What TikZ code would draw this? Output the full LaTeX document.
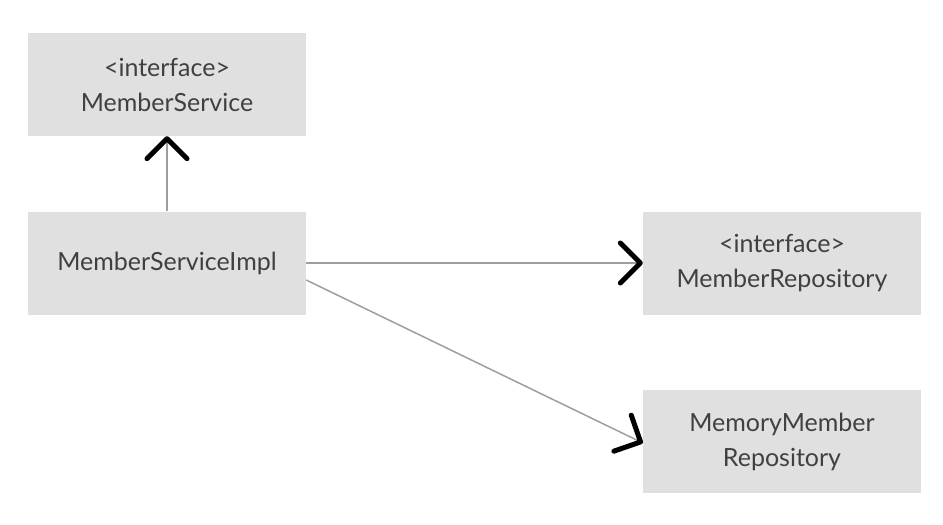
\documentclass[tikz,border=0pt]{standalone}
\usepackage{fontspec}
\setmainfont{Lato}
\usetikzlibrary{arrows.meta,calc}
\definecolor{boxfill}{HTML}{E0E0E0}
\definecolor{txt}{HTML}{404040}
\definecolor{conn}{HTML}{9E9E9E}
\tikzset{
  umlbox/.style={rectangle, fill=boxfill, minimum width=278pt, minimum height=103pt, inner sep=0pt,
    text=txt, align=center, font=\fontsize{25}{35}\selectfont},
  conn/.style={draw=conn, line width=1.5pt,
    -{Straight Barb[length=20pt, width=40pt, line width=5pt, round, color=black]}}
}
\begin{document}
\begin{tikzpicture}[x=1pt,y=-1pt]
\useasboundingbox (0,0) rectangle (943,525);
\node[umlbox] (svc) at (167,84.5) {<interface>\\MemberService};
\node[umlbox] (impl) at (167,263) {MemberServiceImpl};
\node[umlbox] (repo) at (782,263) {<interface>\\MemberRepository};
\node[umlbox] (mem) at (782,441.5) {MemoryMember\\Repository};
\draw[conn] (impl.north) -- (svc.south);
\draw[conn] (impl.east) -- (repo.west);
\draw[conn] ($(impl.east)+(0,17)$) -- ($(mem.west)+(0,1.5)$);
\end{tikzpicture}
\end{document}
